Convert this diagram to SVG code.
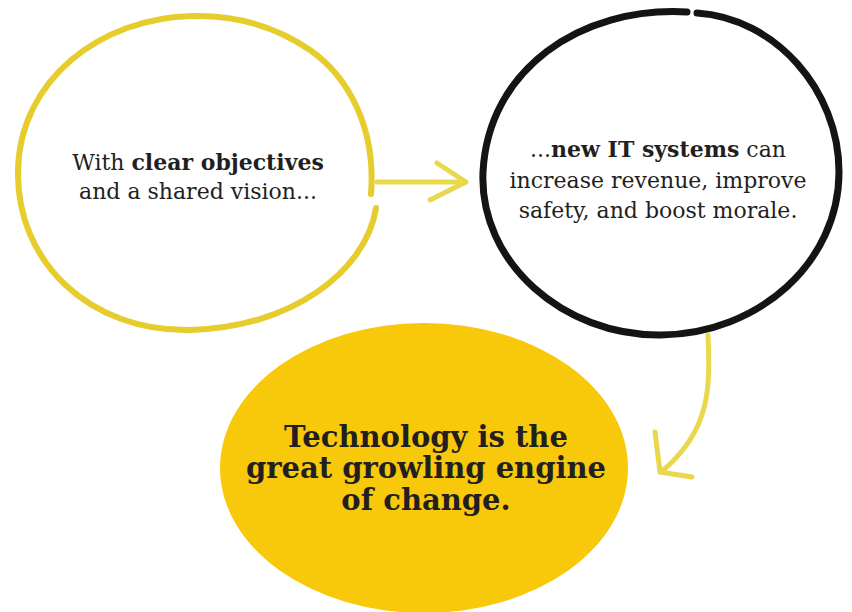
<svg xmlns="http://www.w3.org/2000/svg" width="852" height="612" viewBox="0 0 852 612">
<style>
.reg{font-family:"DejaVu Serif","Liberation Serif",serif;font-size:22px;fill:#231f20;text-anchor:middle}
.b{font-weight:bold}
.big{font-family:"DejaVu Serif","Liberation Serif",serif;font-weight:bold;font-size:29px;fill:#231f20;text-anchor:middle}
.ring{fill:none;stroke-linecap:round;stroke-linejoin:round}
.conn{fill:none;stroke:#e9d74c;stroke-width:5;stroke-linecap:round;stroke-linejoin:round}
</style>
<rect width="852" height="612" fill="#ffffff"/>
<g id="node-objectives">
<path class="ring" stroke="#e6cc2c" stroke-width="6" d="M 371,194 C 376,130 350,78 310,50 C 272,24 232,15 192,16 C 100,18 20,80 18,170 C 16,262 90,332 190,330 C 290,328 366,272 376,208"/>
<text class="reg" x="198" y="170">With <tspan class="b">clear objectives</tspan></text>
<text class="reg" x="198" y="199">and a shared vision...</text>
</g>
<g id="node-systems">
<path class="ring" stroke="#141414" stroke-width="7" d="M 687,12 C 580,6 488,70 483,172 C 479,262 563,336 661,335 C 759,334 839,262 839,172 C 839,90 775,18 697,13"/>
<text class="reg" x="658" y="157">...<tspan class="b">new IT systems</tspan> can</text>
<text class="reg" x="658" y="188">increase revenue, improve</text>
<text class="reg" x="658" y="218">safety, and boost morale.</text>
</g>
<g id="node-engine">
<ellipse cx="424" cy="468" rx="204" ry="145" fill="#f8c80a"/>
<text class="big" x="426" y="447">Technology is the</text>
<text class="big" x="426" y="478">great growling engine</text>
<text class="big" x="426" y="510">of change.</text>
</g>
<g id="connectors">
<path class="conn" d="M 377,182 L 465,182"/>
<path class="conn" d="M 437,163 L 466,182 L 430,200"/>
<path class="conn" d="M 708,335 C 710,385 712,430 661,472"/>
<path class="conn" d="M 655,432 L 660,472 L 692,477"/>
</g>
</svg>
